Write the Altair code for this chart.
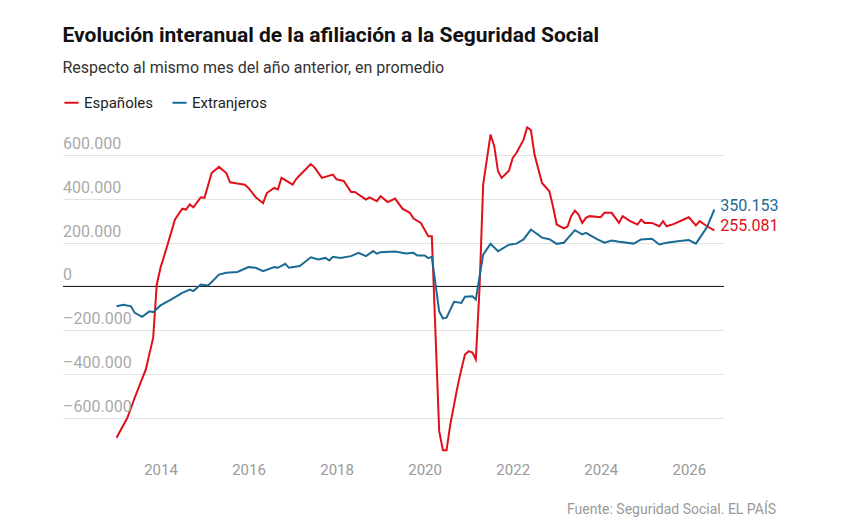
import pandas as pd
import altair as alt

# month index counted from January 2013, values in thousands of affiliates
esp_m = [0, 3, 5, 8, 10, 11, 12, 14, 16, 18, 19, 20, 21, 23, 24, 26, 28, 30, 31, 33, 35, 36, 38, 40, 41, 43, 44, 45, 48, 49,
         50, 53, 54, 56, 59, 60, 62, 64, 65, 68, 69, 71, 72, 74, 76, 78, 80, 81, 83, 85, 86, 88, 89, 90, 91, 93, 94, 95, 96, 97,
         98, 99, 100, 102, 103, 104, 105, 107, 108, 109, 111, 112, 113, 114, 116, 118, 119, 120, 122, 123, 124, 125, 126, 127,
         128, 129, 132, 133, 135, 137, 138, 140, 142, 143, 144, 146, 148, 149, 150, 152, 154, 156, 158, 159, 161, 163]
esp_v = [-688, -597, -506, -377, -234, 9, 85, 191, 305, 354, 350, 373, 360, 406, 403, 516, 544, 516, 474, 468, 463, 448, 406,
         379, 425, 448, 441, 494, 463, 490, 506, 557, 542, 494, 509, 487, 480, 430, 430, 395, 405, 388, 411, 384, 400, 354, 335,
         309, 289, 229, 229, -658, -745, -745, -628, -453, -377, -309, -294, -300, -331, -6, 464, 691, 638, 524, 494, 527, 585,
         607, 668, 724, 711, 600, 471, 433, 365, 282, 264, 273, 320, 345, 327, 289, 312, 320, 315, 335, 335, 289, 320, 297, 282,
         304, 289, 289, 274, 297, 274, 285, 300, 315, 278, 297, 274, 255.081]

ext_m = [0, 2, 4, 5, 7, 9, 10, 12, 15, 18, 20, 21, 23, 25, 28, 30, 33, 36, 38, 40, 43, 44, 46, 47, 50, 53, 55, 57, 58, 59, 61,
         64, 66, 68, 70, 71, 72, 76, 79, 81, 82, 84, 85, 86, 88, 89, 90, 92, 94, 95, 97, 98, 100, 102, 104, 107, 109, 111, 113,
         116, 118, 120, 122, 125, 127, 128, 131, 133, 135, 137, 141, 143, 146, 148, 150, 153, 156, 158, 159, 161, 163]
ext_v = [-90, -83, -90, -120, -138, -113, -117, -86, -59, -29, -14, -21, 9, 5, 54, 62, 66, 88, 85, 70, 88, 85, 103, 85, 93, 133,
         123, 130, 118, 135, 130, 138, 153, 138, 161, 149, 156, 159, 150, 153, 141, 141, 129, 135, -113, -145, -142, -70, -75,
         -47, -44, -59, 145, 194, 160, 190, 195, 214, 259, 222, 215, 194, 199, 256, 237, 244, 215, 199, 209, 203, 195, 214, 217,
         191, 199, 206, 211, 195, 220, 270, 350.153]

y_ticks = [600000, 400000, 200000, 0, -200000, -400000, -600000]

RED = "#e0101b"
BLUE = "#1a6a94"
FONT = "Roboto"


def to_df(months, vals, name):
    start = pd.Timestamp("2013-01-01")
    return pd.DataFrame({
        "fecha": [start + pd.DateOffset(months=m) for m in months],
        "valor": [v * 1000 for v in vals],
        "serie": name,
    })


df = pd.concat([to_df(esp_m, esp_v, "Españoles"), to_df(ext_m, ext_v, "Extranjeros")])
last = df.sort_values("fecha").groupby("serie").tail(1).copy()
last["label"] = last["valor"].map(lambda v: f"{round(v):,}".replace(",", "."))

ticks_df = pd.DataFrame({"y": y_ticks})
ticks_df["label"] = ticks_df["y"].map(lambda v: f"{abs(v):,}".replace(",", ".") if v >= 0
                                      else "–" + f"{abs(v):,}".replace(",", "."))

W, H = 661, 341
xscale = alt.Scale(domain=["2011-10-15", "2026-10-20"])
yscale = alt.Scale(domain=[-771000, 780000], nice=False, zero=False)
colors = alt.Scale(domain=["Españoles", "Extranjeros"], range=[RED, BLUE])

lines = alt.Chart(df).mark_line(strokeWidth=2).encode(
    x=alt.X("fecha:T", scale=xscale, title=None,
            axis=alt.Axis(values=[pd.Timestamp(f"{y}-01-01").isoformat() for y in range(2014, 2027, 2)],
                          format="%Y", domain=False, ticks=False, grid=False, labelColor="#999",
                          labelFontSize=15, labelFont=FONT, labelPadding=6)),
    y=alt.Y("valor:Q", scale=yscale, title=None,
            axis=alt.Axis(values=y_ticks, labels=False, ticks=False, domain=False,
                          grid=True, gridColor="#e2e2e2")),
    color=alt.Color("serie:N", scale=colors, title=None,
                    legend=alt.Legend(orient="none", legendX=0, legendY=-21, direction="horizontal",
                                      symbolType="stroke", symbolStrokeWidth=2, symbolSize=200,
                                      labelFontSize=15, labelFont=FONT, labelColor="#222",
                                      columnPadding=14, symbolOffset=0)),
)

zero = alt.Chart(ticks_df).mark_rule(color="#222", strokeWidth=1).encode(
    y=alt.datum(0, scale=yscale), x=alt.value(0), x2=alt.value(W)
)

ylabels = alt.Chart(ticks_df).mark_text(align="left", baseline="bottom", dy=-3, fontSize=16,
                                        font=FONT, color="#aaa").encode(
    x=alt.value(0), y=alt.Y("y:Q", scale=yscale), text="label:N"
)

end_labels = alt.Chart(last).mark_text(align="left", baseline="middle", dx=6, dy=-4, fontSize=16,
                                       font=FONT).encode(
    x=alt.X("fecha:T", scale=xscale), y=alt.Y("valor:Q", scale=yscale), text="label:N",
    color=alt.Color("serie:N", scale=colors, legend=None),
)

source = alt.Chart(ticks_df.head(1)).mark_text(align="right", baseline="alphabetic", fontSize=14,
                                               font=FONT, color="#999").encode(
    x=alt.value(W + 52), y=alt.value(H + 58), text=alt.value("Fuente: Seguridad Social. EL PAÍS")
)

chart = alt.layer(zero, lines, ylabels, end_labels, source).properties(
    width=W, height=H,
    title=alt.TitleParams(
        "Evolución interanual de la afiliación a la Seguridad Social",
        subtitle="Respecto al mismo mes del año anterior, en promedio",
        anchor="start", font=FONT, fontSize=21, fontWeight="bold", color="#111",
        subtitleFont=FONT, subtitleFontSize=16, subtitleColor="#333", subtitlePadding=14,
        offset=18,
    ),
    padding={"left": 54, "top": 17, "right": 10, "bottom": 4},
).configure_view(stroke=None)

chart.save("out.html", embed_options={"renderer": "svg", "actions": False})
